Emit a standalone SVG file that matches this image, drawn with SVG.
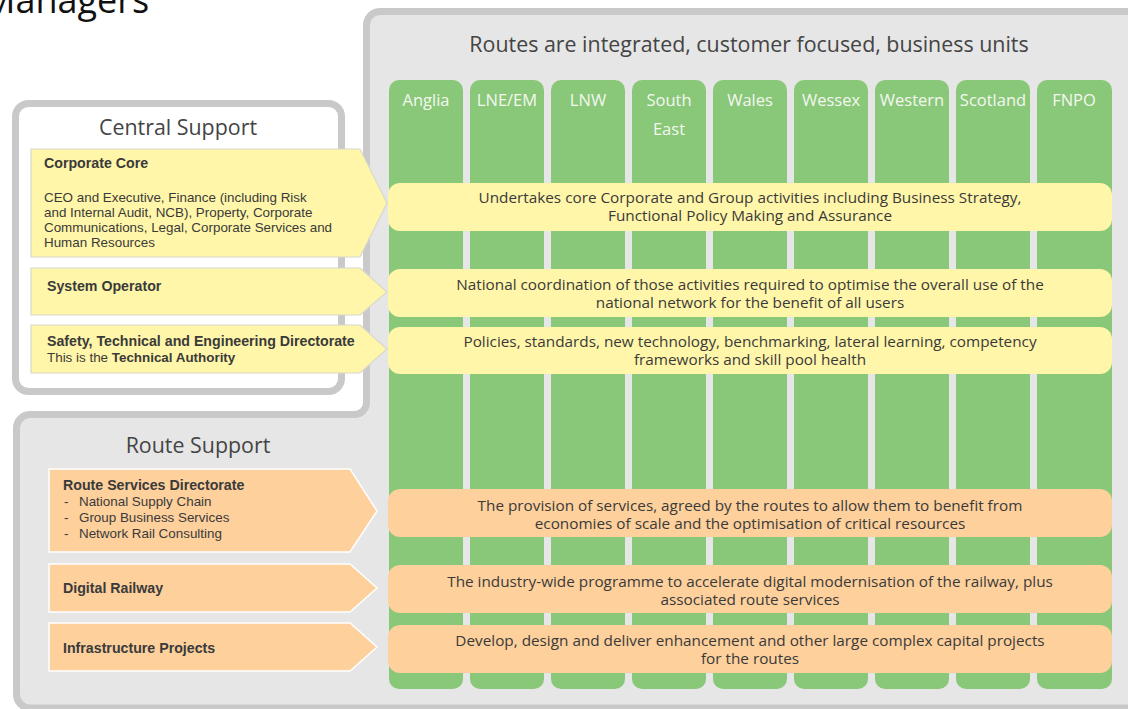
<svg xmlns="http://www.w3.org/2000/svg" width="1128" height="709" viewBox="0 0 1128 709">
  <style>
    text { font-family: "Open Sans", "Liberation Sans", sans-serif; fill: #3a3a3a; }
    .frame { fill: #e6e6e6; stroke: #c9c9c9; stroke-width: 7; }
    .central { fill: #ffffff; stroke: #c9c9c9; stroke-width: 7; }
    .col { fill: #89c779; }
    .band-y { fill: #fff6a9; }
    .band-o { fill: #fdd09c; }
    .arr-y { fill: #fff6a9; stroke: #d8d8cc; stroke-width: 1.2; }
    .arr-o { fill: #fdd09c; stroke: #ffffff; stroke-width: 1.5; }
    .hd { font-size: 16.5px; fill: #f4f8f0; text-anchor: middle; }
    .bt { font-size: 15.3px; text-anchor: middle; }
    /* function labels inside the arrows use a compact face so stacked lines sit tight */
    .ah { font-family: "Liberation Sans", Arial, sans-serif; font-size: 14.2px; font-weight: bold; }
    .ab { font-family: "Liberation Sans", Arial, sans-serif; font-size: 13.4px; }
    .b { font-weight: bold; font-size: 14.2px; }
    .ttl { font-size: 21.4px; fill: #444444; text-anchor: middle; }
  </style>

  <!-- page heading, running off the top edge -->
  <text x="-17" y="13" style="font-size:36px;fill:#111">Managers</text>

  <!-- outer L-shaped frame: routes panel plus route support area -->
  <path class="frame" d="M16.5,428 A13.5,13.5 0 0 1 30,414.5 L354.5,414.5 A12,12 0 0 0 366.5,402.5 L366.5,25 A13.5,13.5 0 0 1 380,11.5 L1140,11.5 L1140,708 L30,708 A13.5,13.5 0 0 1 16.5,694.5 Z"/>

  <!-- central support container -->
  <g id="central-support">
    <rect class="central" x="15.5" y="103.5" width="326" height="288" rx="13"/>
    <text class="ttl" x="178" y="135">Central Support</text>
  </g>

  <g id="route-support">
    <text class="ttl" x="198" y="453">Route Support</text>
  </g>

  <g id="routes">
    <text class="ttl" x="749" y="52">Routes are integrated, customer focused, business units</text>
    <g id="route-anglia"><rect class="col" x="389" y="80" width="74" height="609" rx="10"/><text class="hd" x="426" y="106">Anglia</text></g>
    <g id="route-lne-em"><rect class="col" x="470" y="80" width="74" height="609" rx="10"/><text class="hd" x="507" y="106">LNE/EM</text></g>
    <g id="route-lnw"><rect class="col" x="551" y="80" width="74" height="609" rx="10"/><text class="hd" x="588" y="106">LNW</text></g>
    <g id="route-south-east"><rect class="col" x="632" y="80" width="74" height="609" rx="10"/><text class="hd" x="669" y="106">South<tspan x="669" y="135">East</tspan></text></g>
    <g id="route-wales"><rect class="col" x="713" y="80" width="74" height="609" rx="10"/><text class="hd" x="750" y="106">Wales</text></g>
    <g id="route-wessex"><rect class="col" x="794" y="80" width="74" height="609" rx="10"/><text class="hd" x="831" y="106">Wessex</text></g>
    <g id="route-western"><rect class="col" x="875" y="80" width="74" height="609" rx="10"/><text class="hd" x="912" y="106">Western</text></g>
    <g id="route-scotland"><rect class="col" x="956" y="80" width="74" height="609" rx="10"/><text class="hd" x="993" y="106">Scotland</text></g>
    <g id="route-fnpo"><rect class="col" x="1037" y="80" width="75" height="609" rx="10"/><text class="hd" x="1074" y="106">FNPO</text></g>
  </g>

  <!-- horizontal service bands across the routes -->
  <g id="band-corporate">
    <rect class="band-y" x="388" y="183" width="724" height="48" rx="12"/>
    <text class="bt" x="750" y="203">Undertakes core Corporate and Group activities including Business Strategy,<tspan x="750" y="221">Functional Policy Making and Assurance</tspan></text>
  </g>
  <g id="band-system">
    <rect class="band-y" x="388" y="269" width="724" height="48" rx="12"/>
    <text class="bt" x="750" y="289.5">National coordination of those activities required to optimise the overall use of the<tspan x="750" y="307.5">national network for the benefit of all users</tspan></text>
  </g>
  <g id="band-technical">
    <rect class="band-y" x="388" y="327" width="724" height="47" rx="12"/>
    <text class="bt" x="750" y="347">Policies, standards, new technology, benchmarking, lateral learning, competency<tspan x="750" y="365">frameworks and skill pool health</tspan></text>
  </g>
  <g id="band-services">
    <rect class="band-o" x="388" y="489" width="724" height="48" rx="12"/>
    <text class="bt" x="750" y="511">The provision of services, agreed by the routes to allow them to benefit from<tspan x="750" y="529">economies of scale and the optimisation of critical resources</tspan></text>
  </g>
  <g id="band-digital">
    <rect class="band-o" x="388" y="565" width="724" height="48" rx="12"/>
    <text class="bt" x="750" y="586.5">The industry-wide programme to accelerate digital modernisation of the railway, plus<tspan x="750" y="604.5">associated route services</tspan></text>
  </g>
  <g id="band-projects">
    <rect class="band-o" x="388" y="625" width="724" height="48" rx="12"/>
    <text class="bt" x="750" y="646">Develop, design and deliver enhancement and other large complex capital projects<tspan x="750" y="664">for the routes</tspan></text>
  </g>

  <!-- central support functions -->
  <g id="corporate-core">
    <polygon class="arr-y" points="31,149 360,149 387,203 360,257 31,257"/>
    <text class="ah" x="44" y="168">Corporate Core</text>
    <text class="ab" x="44" y="202">CEO and Executive, Finance (including Risk<tspan x="44" y="217">and Internal Audit, NCB), Property, Corporate</tspan><tspan x="44" y="232">Communications, Legal, Corporate Services and</tspan><tspan x="44" y="247">Human Resources</tspan></text>
  </g>
  <g id="system-operator">
    <polygon class="arr-y" points="31,268 360,268 387,292 360,315 31,315"/>
    <text class="ah" x="47" y="291">System Operator</text>
  </g>
  <g id="technical-authority">
    <polygon class="arr-y" points="31,325 360,325 387,349 360,373 31,373"/>
    <text class="ab" x="47" y="346"><tspan class="b">Safety, Technical and Engineering Directorate</tspan><tspan x="47" y="362">This is the </tspan><tspan class="b" style="font-size:13.4px">Technical Authority</tspan></text>
  </g>

  <!-- route support functions -->
  <g id="route-services">
    <polygon class="arr-o" points="49,469 350,469 377,511 350,552 49,552"/>
    <text class="ab" x="63" y="490"><tspan class="b">Route Services Directorate</tspan><tspan x="64" y="506">-</tspan><tspan x="79" y="506">National Supply Chain</tspan><tspan x="64" y="522">-</tspan><tspan x="79" y="522">Group Business Services</tspan><tspan x="64" y="537.5">-</tspan><tspan x="79" y="537.5">Network Rail Consulting</tspan></text>
  </g>
  <g id="digital-railway">
    <polygon class="arr-o" points="49,564 350,564 377,588 350,612 49,612"/>
    <text class="ah" x="63" y="593">Digital Railway</text>
  </g>
  <g id="infrastructure-projects">
    <polygon class="arr-o" points="49,623 350,623 377,647 350,671 49,671"/>
    <text class="ah" x="63" y="653">Infrastructure Projects</text>
  </g>
</svg>
